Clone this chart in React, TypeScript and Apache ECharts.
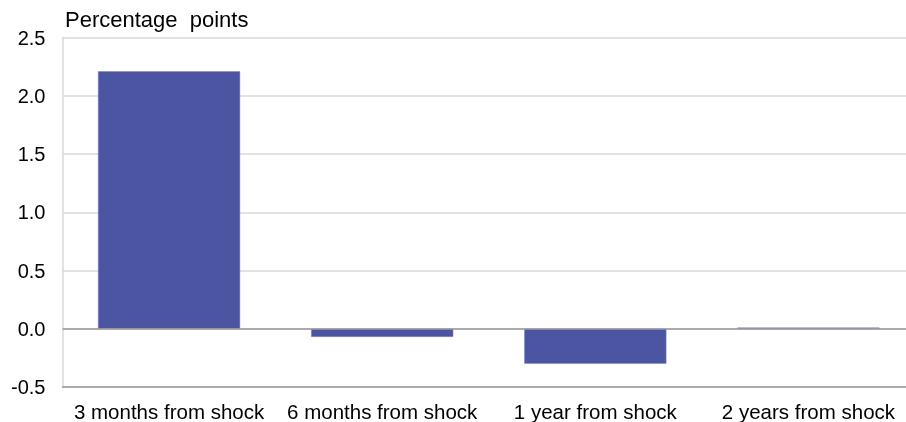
import React, { useEffect, useRef } from "react";
import * as echarts from "echarts";

const categories = ["3 months from shock", "6 months from shock", "1 year from shock", "2 years from shock"];
const values = [2.21, -0.07, -0.3, 0.01];
const yTicks = { min: -0.5, max: 2.5, interval: 0.5 };
const unitLabel = "Percentage  points";

export default function App() {
  const ref = useRef<HTMLDivElement>(null);
  useEffect(() => {
    const chart = echarts.init(ref.current!, null, { renderer: "svg" });
    chart.setOption({
      animation: false,
      textStyle: { fontFamily: "Liberation Sans, Arial, sans-serif" },
      grid: { left: 62.5, top: 37.5, bottom: 34, right: 0, containLabel: false },
      graphic: [
        {
          type: "text",
          left: 65,
          top: 8,
          style: { text: unitLabel, fontSize: 22, fill: "#000", fontFamily: "Liberation Sans, Arial, sans-serif" },
        },
      ],
      xAxis: {
        type: "category",
        data: categories,
        axisLine: { onZero: false, lineStyle: { color: "#999", width: 1.5 } },
        axisTick: { show: false },
        axisLabel: { color: "#000", fontSize: 20.5, margin: 14, interval: 0 },
      },
      yAxis: {
        type: "value",
        min: yTicks.min,
        max: yTicks.max,
        interval: yTicks.interval,
        axisLine: { show: true, lineStyle: { color: "#d9d9d9", width: 1.5 } },
        axisTick: { show: false },
        splitLine: { lineStyle: { color: "#d9d9d9", width: 1.5 } },
        axisLabel: {
          color: "#000",
          fontSize: 20,
          margin: 17,
          formatter: (v: number) => v.toFixed(1),
        },
      },
      series: [
        {
          type: "bar",
          data: values,
          barWidth: "66.7%",
          itemStyle: { color: "#4b55a1", borderColor: "#7f87c4", borderWidth: 0.5 },
          markLine: {
            silent: true,
            symbol: "none",
            label: { show: false },
            lineStyle: { color: "#999", width: 1.5, type: "solid" },
            data: [{ yAxis: 0 }],
          },
        },
      ],
    });
    return () => chart.dispose();
  }, []);
  return <div ref={ref} style={{ position: "fixed", left: 0, top: 0, width: 915, height: 422 }} />;
}
